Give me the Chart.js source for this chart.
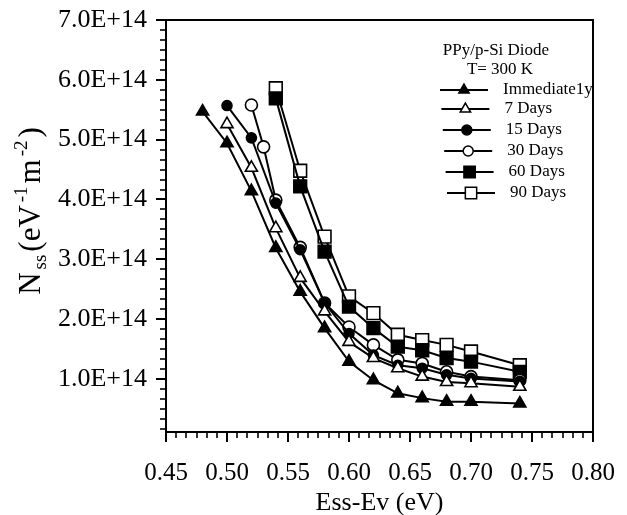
<!DOCTYPE html>
<html>
<head>
<meta charset="utf-8">
<script src="https://cdn.jsdelivr.net/npm/chart.js@4/dist/chart.umd.min.js"></script>
<style>
  html, body { margin: 0; padding: 0; background: #fff; }
  #wrap { width: 627px; height: 515px; position: relative; }
</style>
</head>
<body>
<div id="wrap"><canvas id="c" width="627" height="515"></canvas></div>
<script>
// ---- Data (Nss in units of 1E14 eV^-1 m^-2) ----
const seriesNames = ['Immediate1y', '7 Days', '15 Days', '30 Days', '60 Days', '90 Days'];
const xImmediately = [0.48, 0.50, 0.52, 0.54, 0.56, 0.58, 0.60, 0.62, 0.64, 0.66, 0.68, 0.70, 0.74];
const yImmediately = [5.47, 4.94, 4.14, 3.19, 2.46, 1.85, 1.29, 0.98, 0.76, 0.68, 0.62, 0.62, 0.59];
const x7Days = [0.50, 0.52, 0.54, 0.56, 0.58, 0.60, 0.62, 0.64, 0.66, 0.68, 0.70, 0.74];
const y7Days = [5.26, 4.53, 3.52, 2.69, 2.13, 1.62, 1.35, 1.18, 1.04, 0.95, 0.93, 0.87];
const x15Days = [0.50, 0.52, 0.54, 0.56, 0.58, 0.60, 0.62, 0.64, 0.66, 0.68, 0.70, 0.74];
const y15Days = [5.57, 5.03, 3.94, 3.16, 2.27, 1.76, 1.40, 1.23, 1.18, 1.07, 1.01, 0.96];
const x30Days = [0.52, 0.53, 0.54, 0.56, 0.58, 0.60, 0.62, 0.64, 0.66, 0.68, 0.70, 0.74];
const y30Days = [5.58, 4.88, 3.99, 3.20, 2.27, 1.87, 1.57, 1.32, 1.26, 1.12, 1.04, 0.98];
const x60Days = [0.54, 0.56, 0.58, 0.60, 0.62, 0.64, 0.66, 0.68, 0.70, 0.74];
const y60Days = [5.69, 4.22, 3.13, 2.21, 1.85, 1.54, 1.48, 1.35, 1.29, 1.12];
const x90Days = [0.54, 0.56, 0.58, 0.60, 0.62, 0.64, 0.66, 0.68, 0.70, 0.74];
const y90Days = [5.86, 4.48, 3.38, 2.38, 2.10, 1.74, 1.65, 1.57, 1.46, 1.23];
const xTickValues = [0.45, 0.50, 0.55, 0.60, 0.65, 0.70, 0.75, 0.80];
const yTickValues = [1.0e14, 2.0e14, 3.0e14, 4.0e14, 5.0e14, 6.0e14, 7.0e14];
const legendTitle = ['PPy/p-Si Diode', 'T= 300 K'];
const xTitle = 'Ess-Ev (eV)';

const SERIF = '"Liberation Serif", "Times New Roman", serif';
const UNIT = 1e14;

function pts(xs, ys) { return xs.map((x, i) => ({ x: x, y: ys[i] * UNIT })); }

const styles = [
  { pointStyle: 'triangle', fill: '#000', radius: 7 },
  { pointStyle: 'triangle', fill: '#fff', radius: 7 },
  { pointStyle: 'circle', fill: '#000', radius: 5 },
  { pointStyle: 'circle', fill: '#fff', radius: 6 },
  { pointStyle: 'rect', fill: '#000', radius: 9 },
  { pointStyle: 'rect', fill: '#fff', radius: 9 }
];
const allData = [
  pts(xImmediately, yImmediately), pts(x7Days, y7Days), pts(x15Days, y15Days),
  pts(x30Days, y30Days), pts(x60Days, y60Days), pts(x90Days, y90Days)
];

const datasets = allData.map((d, i) => ({
  label: seriesNames[i],
  data: d,
  showLine: true,
  borderColor: '#000',
  borderWidth: 2,
  pointStyle: styles[i].pointStyle,
  pointRadius: styles[i].radius,
  pointHoverRadius: styles[i].radius,
  pointBackgroundColor: styles[i].fill,
  pointBorderColor: '#000',
  pointBorderWidth: 1.6,
  tension: 0
}));

const framePlugin = {
  id: 'frame',
  afterDraw(chart) {
    const ctx = chart.ctx, a = chart.chartArea;
    const xs = chart.scales.x, ys = chart.scales.y;
    ctx.save();
    ctx.strokeStyle = '#000';
    // top and right frame
    ctx.lineWidth = 2;
    ctx.beginPath();
    ctx.moveTo(a.left - 1, a.top);
    ctx.lineTo(a.right, a.top);
    ctx.lineTo(a.right, a.bottom + 1);
    ctx.stroke();
    // minor ticks
    ctx.lineWidth = 1.6;
    const xStep = 0.05 / 6;
    for (let k = 0; k <= 42; k++) {
      if (k % 6 === 0) continue;
      const v = 0.45 + k * xStep;
      const px = Math.round(xs.getPixelForValue(v));
      ctx.beginPath();
      ctx.moveTo(px, a.bottom);
      ctx.lineTo(px, a.bottom + 6);
      ctx.stroke();
    }
    const yStep = UNIT / 6;
    for (let k = 1; k <= 42; k++) {
      if (k % 6 === 0) continue;
      const v = k * yStep;
      if (v < ys.min || v > ys.max) continue;
      const py = Math.round(ys.getPixelForValue(v));
      ctx.beginPath();
      ctx.moveTo(a.left, py);
      ctx.lineTo(a.left - 6, py);
      ctx.stroke();
    }
    // y axis title with sub/superscripts
    ctx.translate(40, 211);
    ctx.rotate(-Math.PI / 2);
    ctx.fillStyle = '#000';
    ctx.textBaseline = 'alphabetic';
    ctx.textAlign = 'left';
    const big = '31px ' + SERIF, small = '19px ' + SERIF;
    const parts = [
      { t: 'N', f: big, dy: 0 },
      { t: 'ss', f: small, dy: 6 },
      { t: '(eV', f: big, dy: 0 },
      { t: '-1', f: small, dy: -13 },
      { t: 'm', f: big, dy: 0 },
      { t: '-2', f: small, dy: -13 },
      { t: ')', f: big, dy: 0 }
    ];
    const gap = 3;
    let total = 0;
    parts.forEach(p => { ctx.font = p.f; p.w = ctx.measureText(p.t).width; total += p.w + gap; });
    total -= gap;
    let cx = -total / 2;
    parts.forEach(p => { ctx.font = p.f; ctx.fillText(p.t, cx, p.dy); cx += p.w + gap; });
    ctx.restore();

    // legend
    ctx.save();
    ctx.fillStyle = '#000';
    ctx.font = '17px ' + SERIF;
    ctx.textBaseline = 'middle';
    ctx.textAlign = 'center';
    ctx.fillText(legendTitle[0], 496, 51);
    ctx.fillText(legendTitle[1], 500, 70);
    ctx.textAlign = 'left';
    const rowsY = [90, 109, 130, 151, 172, 193];
    for (let i = 0; i < 6; i++) {
      const off = i * 1.4;
      const y = rowsY[i];
      ctx.strokeStyle = '#000';
      ctx.lineWidth = 2;
      ctx.beginPath();
      ctx.moveTo(440 + off, y);
      ctx.lineTo(488 + off, y);
      ctx.stroke();
      ctx.fillStyle = styles[i].fill;
      ctx.strokeStyle = '#000';
      ctx.lineWidth = 1.5;
      const r = styles[i].pointStyle === 'rect' ? 8 : (styles[i].pointStyle === 'triangle' ? 6 : 5);
      Chart.helpers.drawPoint(ctx, { pointStyle: styles[i].pointStyle, rotation: 0, radius: r, borderWidth: 1.5 }, 464 + off, y);
      ctx.fillStyle = '#000';
      ctx.fillText(seriesNames[i], 503 + off, y);
    }
    ctx.restore();
  }
};

new Chart(document.getElementById('c'), {
  type: 'scatter',
  data: { datasets: datasets },
  plugins: [framePlugin],
  options: {
    responsive: false,
    animation: false,
    devicePixelRatio: 1,
    layout: { padding: { left: 0, right: 34, top: 20, bottom: 0 } },
    plugins: { legend: { display: false }, tooltip: { enabled: false } },
    scales: {
      x: {
        type: 'linear',
        min: 0.45, max: 0.80,
        afterBuildTicks: s => { s.ticks = xTickValues.map(v => ({ value: v })); },
        afterFit: s => { s.height = 83; s.paddingLeft = 0; s.paddingRight = 0; },
        ticks: {
          color: '#000',
          font: { family: SERIF, size: 25 },
          padding: 16,
          maxRotation: 0,
          autoSkip: false,
          callback: v => Number(v).toFixed(2)
        },
        grid: { drawOnChartArea: false, drawTicks: true, tickLength: 10, color: '#000', lineWidth: 2 },
        border: { display: true, color: '#000', width: 2 },
        title: { display: true, text: xTitle, color: '#000', font: { family: SERIF, size: 26 }, padding: { top: 6, bottom: -4 } }
      },
      y: {
        type: 'linear',
        min: 0.114e14, max: 7.0e14,
        afterBuildTicks: s => { s.ticks = yTickValues.map(v => ({ value: v })); },
        afterFit: s => { s.width = 166; s.paddingTop = 0; s.paddingBottom = 0; },
        ticks: {
          color: '#000',
          font: { family: SERIF, size: 26 },
          padding: 9,
          autoSkip: false,
          callback: v => Number(v).toExponential(1).toUpperCase()
        },
        grid: { drawOnChartArea: false, drawTicks: true, tickLength: 10, color: '#000', lineWidth: 2 },
        border: { display: true, color: '#000', width: 2 }
      }
    }
  }
});
</script>
</body>
</html>
